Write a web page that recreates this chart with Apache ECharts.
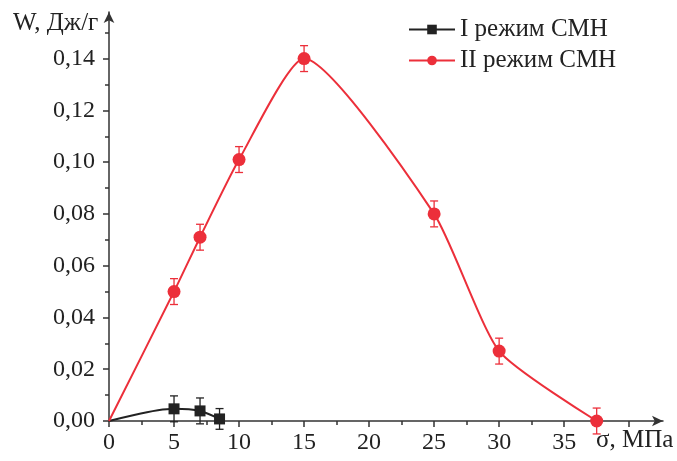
<!DOCTYPE html>
<html>
<head>
<meta charset="utf-8">
<script src="https://cdn.jsdelivr.net/npm/echarts@6/dist/echarts.min.js"></script>
<style>
  html, body { margin: 0; padding: 0; background: #fff; }
  #chart { width: 677px; height: 461px; }
</style>
</head>
<body>
<div id="chart"></div>
<script>
  // data
  var xTicks = [0, 5, 10, 15, 20, 25, 30, 35, 40];
  var xMinorTicks = [2.5, 7.5, 12.5, 17.5, 22.5, 27.5, 32.5, 37.5];
  var xLabels = [0, 5, 10, 15, 20, 25, 30, 35];
  var yTicks = [0, 0.02, 0.04, 0.06, 0.08, 0.10, 0.12, 0.14];
  var yMinorTicks = [0.01, 0.03, 0.05, 0.07, 0.09, 0.11, 0.13, 0.15];

  var mode1Name = 'I режим СМН';
  var mode1X = [0, 5, 7, 8.5];
  var mode1Y = [0, 0.0047, 0.0039, 0.0008];
  var mode1Err = [0, 0.005, 0.005, 0.004];

  var mode2Name = 'II режим СМН';
  var mode2X = [0, 5, 7, 10, 15, 25, 30, 37.5];
  var mode2Y = [0, 0.050, 0.071, 0.101, 0.140, 0.080, 0.027, 0];
  var mode2Err = [0, 0.005, 0.005, 0.005, 0.005, 0.005, 0.005, 0.005];

  var red = '#ec2f3a';
  var dark = '#222222';
  var axisColor = '#333333';
  var serif = 'Liberation Serif';
  var X_MAX = 42.6, Y_MAX = 0.158;

  function pts(xs, ys){
    return xs.map(function(x, i){
      if(i == 0) return {value: [x, ys[i]], symbol: 'none'};
      return [x, ys[i]];
    });
  }

  function errData(xs, ys, es){
    var out = [];
    xs.forEach(function(x, i){
      if(es[i] > 0) out.push([x, ys[i] - es[i], ys[i] + es[i]]);
    });
    return out;
  }

  function errSeries(data, color, z){
    return {
      type: 'custom',
      z: z,
      silent: true,
      data: data,
      renderItem: function(params, api){
        var x = api.value(0);
        var lo = api.coord([x, api.value(1)]);
        var hi = api.coord([x, api.value(2)]);
        var w = 4;
        var st = {stroke: color, lineWidth: 1.3};
        return {
          type: 'group',
          children: [
            {type: 'line', shape: {x1: lo[0], y1: lo[1], x2: hi[0], y2: hi[1]}, style: st},
            {type: 'line', shape: {x1: lo[0]-w, y1: lo[1], x2: lo[0]+w, y2: lo[1]}, style: st},
            {type: 'line', shape: {x1: hi[0]-w, y1: hi[1], x2: hi[0]+w, y2: hi[1]}, style: st}
          ]
        };
      }
    };
  }

  var tickStyle = {color: axisColor, width: 1.5};

  var myChart = echarts.init(document.getElementById('chart'));
  var option = {
    backgroundColor: '#fff',
    animation: false,
    textStyle: {fontFamily: serif},
    grid: {left: 109, right: 14, top: 12, bottom: 40},
    legend: {
      orient: 'vertical',
      left: 403,
      top: 12,
      itemWidth: 46,
      itemHeight: 12,
      itemGap: 6,
      textStyle: {fontFamily: serif, fontSize: 25, color: dark},
      data: [mode1Name, mode2Name]
    },
    xAxis: [{
      type: 'value',
      min: 0,
      max: X_MAX,
      interval: 5,
      splitLine: {show: false},
      axisLine: {lineStyle: {color: axisColor, width: 1.5}, symbol: ['none', 'arrow'], symbolSize: [8, 11]},
      axisTick: {length: 6, lineStyle: tickStyle, customValues: xTicks},
      axisLabel: {customValues: xLabels, margin: 10, fontFamily: serif, fontSize: 24, color: dark}
    }, {
      // minor ticks only
      type: 'value',
      position: 'bottom',
      min: 0,
      max: X_MAX,
      interval: 2.5,
      splitLine: {show: false},
      axisLine: {show: true, onZero: false, lineStyle: {opacity: 0}},
      axisTick: {show: true, length: 4, lineStyle: tickStyle, customValues: xMinorTicks},
      axisLabel: {show: false}
    }],
    yAxis: [{
      type: 'value',
      min: 0,
      max: Y_MAX,
      interval: 0.02,
      splitLine: {show: false},
      axisLine: {lineStyle: {color: axisColor, width: 1.5}, symbol: ['none', 'arrow'], symbolSize: [8, 11]},
      axisTick: {length: 6, lineStyle: tickStyle, customValues: yTicks},
      axisLabel: {
        customValues: yTicks,
        margin: 14,
        fontFamily: serif,
        fontSize: 24,
        color: dark,
        formatter: function(v){ return v.toFixed(2).replace('.', ','); }
      }
    }, {
      type: 'value',
      position: 'left',
      min: 0,
      max: Y_MAX,
      interval: 0.01,
      splitLine: {show: false},
      axisLine: {show: true, onZero: false, lineStyle: {opacity: 0}},
      axisTick: {show: true, length: 4, lineStyle: tickStyle, customValues: yMinorTicks},
      axisLabel: {show: false}
    }],
    graphic: [
      {type: 'text', left: 13, top: 11, style: {text: 'W, Дж/г', font: '25px "Liberation Serif"', fill: dark}},
      {type: 'text', left: 596, top: 428, style: {text: 'σ, МПа', font: '25px "Liberation Serif"', fill: dark}}
    ],
    series: [
      errSeries(errData(mode1X, mode1Y, mode1Err), dark, 1),
      errSeries(errData(mode2X, mode2Y, mode2Err), red, 1),
      {
        name: mode1Name,
        type: 'line',
        z: 3,
        smooth: 0.3,
        symbol: 'rect',
        symbolSize: 11,
        itemStyle: {color: dark},
        lineStyle: {color: dark, width: 2},
        data: pts(mode1X, mode1Y)
      },
      {
        name: mode2Name,
        type: 'line',
        z: 4,
        smooth: 0.2,
        symbol: 'circle',
        symbolSize: 13,
        itemStyle: {color: red},
        lineStyle: {color: red, width: 2},
        data: pts(mode2X, mode2Y)
      }
    ]
  };
  option && myChart.setOption(option, true);
</script>
</body>
</html>
